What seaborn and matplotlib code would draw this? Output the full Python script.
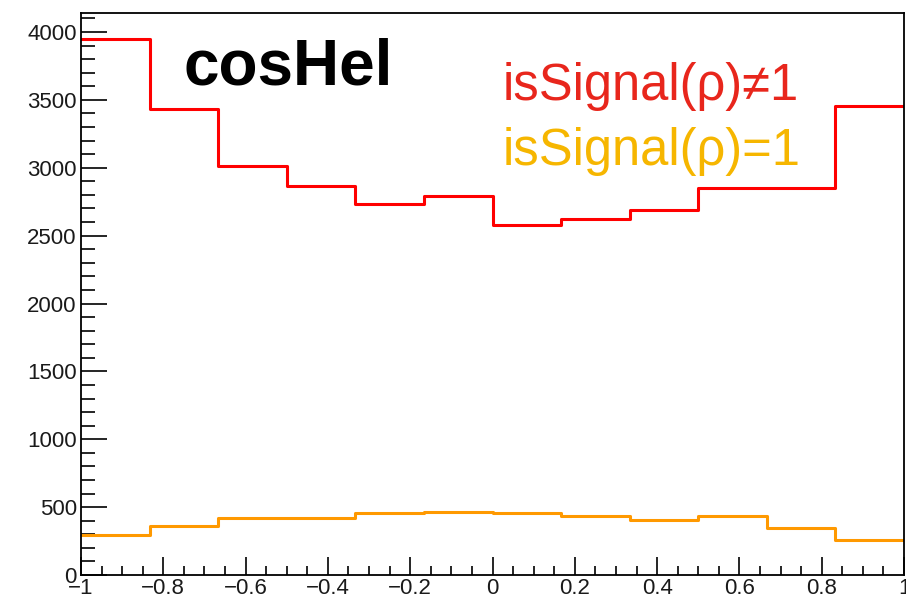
import numpy as np
import pandas as pd
import matplotlib
matplotlib.use("Agg")
import matplotlib.pyplot as plt
from matplotlib.ticker import MultipleLocator
import seaborn as sns

# cosHel histogram, 12 bins over [-1, 1]
bin_edges = np.linspace(-1.0, 1.0, 13)
not_signal = [3946, 3433, 3015, 2866, 2733, 2795, 2580, 2622, 2689, 2852, 2852, 3458]
is_signal = [297, 361, 422, 422, 457, 466, 454, 437, 403, 437, 346, 260]

title_text = "cosHel"
label_not_signal = "isSignal(ρ)≠1"
label_signal = "isSignal(ρ)=1"

sns.set_theme(style="white")
plt.rcParams["font.family"] = ["Liberation Sans", "DejaVu Sans"]

fig = plt.figure(figsize=(9.06, 5.99), dpi=100)
ax = fig.add_axes([81 / 906, 24 / 599, 823 / 906, 562 / 599])


def step_frame(values, name):
    return pd.DataFrame({"x": bin_edges, "y": list(values) + [values[-1]], "s": name})


sns.lineplot(data=step_frame(not_signal, "ns"), x="x", y="y", drawstyle="steps-post",
             color="#ff0000", linewidth=2.2, ax=ax, legend=False)
sns.lineplot(data=step_frame(is_signal, "s"), x="x", y="y", drawstyle="steps-post",
             color="#ff9900", linewidth=2.2, ax=ax, legend=False)

ax.set_xlim(-1, 1)
ax.set_ylim(0, 4140)
ax.set_xlabel("")
ax.set_ylabel("")

ax.xaxis.set_major_locator(MultipleLocator(0.2))
ax.xaxis.set_minor_locator(MultipleLocator(0.05))
ax.yaxis.set_major_locator(MultipleLocator(500))
ax.yaxis.set_minor_locator(MultipleLocator(100))
ax.xaxis.set_major_formatter(plt.FuncFormatter(lambda v, p: ("%g" % round(v, 2)).replace("-", "\u2212")))
ax.yaxis.set_major_formatter(plt.FuncFormatter(lambda v, p: "%d" % v))

ax.tick_params(axis="both", which="both", direction="in", color="black",
               labelsize=16, labelcolor="#1a1a1a")
ax.tick_params(axis="y", which="major", length=19, width=1.2, left=True, right=False, pad=3)
ax.tick_params(axis="y", which="minor", length=10, width=1.2, left=True, right=False)
ax.tick_params(axis="x", which="major", length=13, width=1.2, bottom=True, top=False, pad=2)
ax.tick_params(axis="x", which="minor", length=6.5, width=1.2, bottom=True, top=False)

for side in ax.spines.values():
    side.set_visible(True)
    side.set_color("black")
    side.set_linewidth(1.3)

ax.text(0.125, 0.872, title_text, transform=ax.transAxes, fontsize=46,
        fontweight="bold", color="black", va="baseline", ha="left")
ax.text(0.512, 0.845, label_not_signal, transform=ax.transAxes, fontsize=36.5,
        color="#e8261c", va="baseline", ha="left")
ax.text(0.512, 0.73, label_signal, transform=ax.transAxes, fontsize=36.5,
        color="#f6b600", va="baseline", ha="left")

fig.savefig("out.png", dpi=100, facecolor="white")
